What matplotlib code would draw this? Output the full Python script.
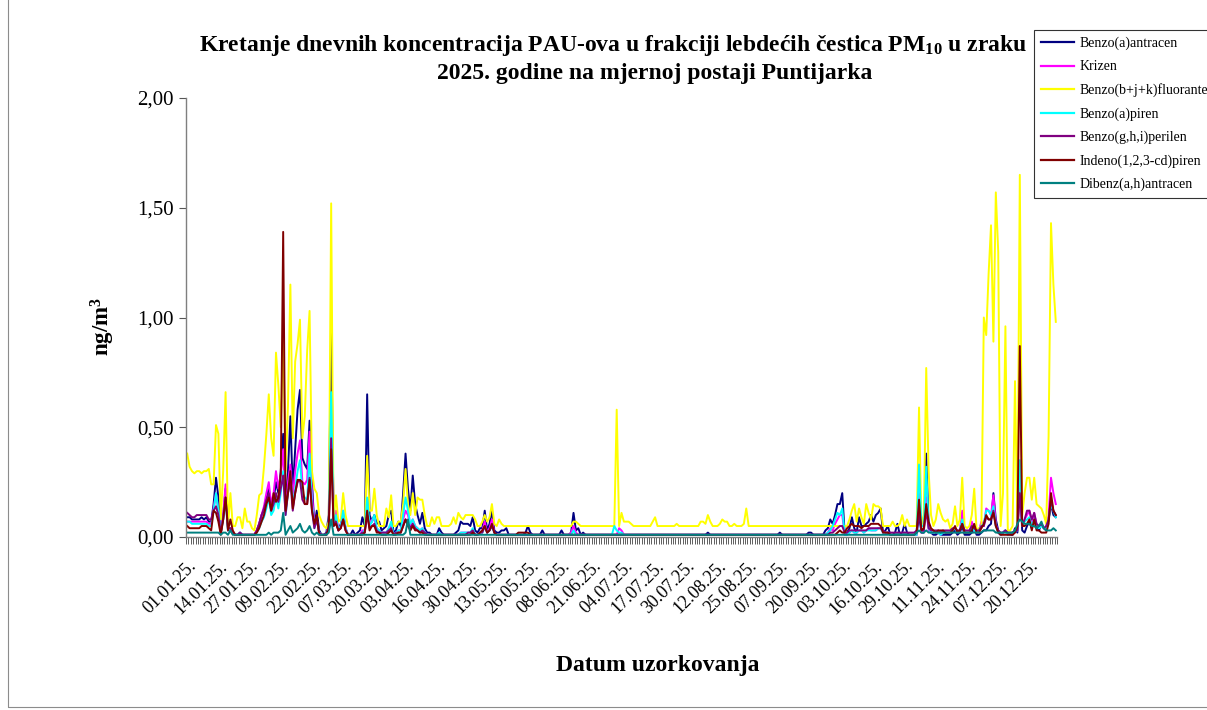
import numpy as np
import matplotlib
matplotlib.use("Agg")
import matplotlib.pyplot as plt
from matplotlib.patches import Rectangle
from matplotlib.ticker import FuncFormatter

# daily PAH concentrations in PM10 (ng/m3), one row per 13 samples
benzo_a_antracen = [
    0.09, 0.09, 0.08, 0.08, 0.08, 0.08, 0.09, 0.08, 0.09, 0.07, 0.07, 0.15, 0.27,
    0.18, 0.02, 0.10, 0.22, 0.03, 0.04, 0.02, 0.01, 0.01, 0.02, 0.01, 0.01, 0.01,
    0.01, 0.01, 0.01, 0.03, 0.06, 0.10, 0.12, 0.18, 0.22, 0.12, 0.17, 0.25, 0.20,
    0.30, 0.47, 0.15, 0.30, 0.55, 0.21, 0.40, 0.58, 0.67, 0.36, 0.33, 0.31, 0.53,
    0.25, 0.05, 0.12, 0.03, 0.01, 0.01, 0.02, 0.10, 0.94, 0.10, 0.08, 0.03, 0.06,
    0.10, 0.04, 0.01, 0.01, 0.03, 0.01, 0.02, 0.03, 0.09, 0.05, 0.65, 0.10, 0.07,
    0.10, 0.06, 0.07, 0.03, 0.04, 0.05, 0.10, 0.12, 0.02, 0.03, 0.07, 0.05, 0.20,
    0.38, 0.22, 0.12, 0.28, 0.15, 0.10, 0.06, 0.11, 0.04, 0.02, 0.02, 0.01, 0.01,
    0.01, 0.04, 0.02, 0.01, 0.01, 0.01, 0.01, 0.01, 0.02, 0.03, 0.07, 0.06, 0.06,
    0.06, 0.05, 0.09, 0.03, 0.02, 0.04, 0.04, 0.12, 0.03, 0.06, 0.12, 0.03, 0.02,
    0.02, 0.03, 0.03, 0.04, 0.01, 0.01, 0.01, 0.01, 0.01, 0.01, 0.01, 0.02, 0.05,
    0.02, 0.01, 0.01, 0.01, 0.01, 0.03, 0.01, 0.01, 0.01, 0.01, 0.01, 0.01, 0.01,
    0.03, 0.01, 0.01, 0.01, 0.02, 0.11, 0.03, 0.04, 0.01, 0.02, 0.01, 0.01, 0.01,
    0.01, 0.01, 0.01, 0.01, 0.01, 0.01, 0.01, 0.01, 0.01, 0.01, 0.01, 0.01, 0.01,
    0.01, 0.01, 0.01, 0.01, 0.01, 0.01, 0.01, 0.01, 0.01, 0.01, 0.01, 0.01, 0.01,
    0.01, 0.01, 0.01, 0.01, 0.01, 0.01, 0.01, 0.01, 0.01, 0.01, 0.01, 0.01, 0.01,
    0.01, 0.01, 0.01, 0.01, 0.01, 0.01, 0.01, 0.01, 0.01, 0.02, 0.01, 0.01, 0.01,
    0.01, 0.01, 0.01, 0.01, 0.01, 0.01, 0.01, 0.01, 0.01, 0.01, 0.01, 0.01, 0.01,
    0.01, 0.01, 0.01, 0.01, 0.01, 0.01, 0.01, 0.01, 0.01, 0.01, 0.01, 0.01, 0.01,
    0.02, 0.01, 0.01, 0.01, 0.01, 0.01, 0.01, 0.01, 0.01, 0.01, 0.01, 0.01, 0.02,
    0.02, 0.01, 0.01, 0.01, 0.01, 0.01, 0.03, 0.04, 0.08, 0.06, 0.10, 0.15, 0.15,
    0.20, 0.02, 0.02, 0.04, 0.09, 0.04, 0.02, 0.09, 0.05, 0.05, 0.06, 0.07, 0.10,
    0.07, 0.10, 0.11, 0.13, 0.02, 0.03, 0.05, 0.01, 0.01, 0.02, 0.06, 0.01, 0.02,
    0.06, 0.02, 0.01, 0.01, 0.01, 0.01, 0.10, 0.02, 0.02, 0.38, 0.05, 0.02, 0.01,
    0.01, 0.02, 0.01, 0.01, 0.01, 0.01, 0.01, 0.02, 0.03, 0.01, 0.02, 0.05, 0.01,
    0.01, 0.01, 0.02, 0.04, 0.01, 0.01, 0.02, 0.03, 0.03, 0.05, 0.06, 0.20, 0.08,
    0.03, 0.01, 0.02, 0.03, 0.01, 0.01, 0.01, 0.04, 0.02, 0.25, 0.03, 0.02, 0.05,
    0.07, 0.04, 0.08, 0.05, 0.03, 0.06, 0.04, 0.03, 0.08, 0.15, 0.10, 0.09,
]

krizen = [
    0.07, 0.07, 0.07, 0.07, 0.07, 0.07, 0.07, 0.07, 0.07, 0.06, 0.06, 0.13, 0.20,
    0.12, 0.02, 0.10, 0.24, 0.03, 0.04, 0.02, 0.01, 0.01, 0.02, 0.01, 0.01, 0.01,
    0.01, 0.01, 0.01, 0.03, 0.06, 0.10, 0.14, 0.20, 0.25, 0.15, 0.20, 0.30, 0.22,
    0.28, 0.40, 0.12, 0.25, 0.33, 0.18, 0.30, 0.38, 0.44, 0.25, 0.24, 0.26, 0.48,
    0.20, 0.05, 0.08, 0.02, 0.01, 0.01, 0.01, 0.06, 0.60, 0.08, 0.12, 0.03, 0.05,
    0.12, 0.04, 0.01, 0.01, 0.01, 0.01, 0.01, 0.01, 0.03, 0.03, 0.13, 0.05, 0.08,
    0.08, 0.04, 0.03, 0.02, 0.02, 0.02, 0.04, 0.05, 0.01, 0.02, 0.03, 0.03, 0.08,
    0.12, 0.10, 0.05, 0.08, 0.05, 0.04, 0.03, 0.04, 0.02, 0.01, 0.01, 0.01, 0.01,
    0.01, 0.02, 0.01, 0.01, 0.01, 0.01, 0.01, 0.01, 0.01, 0.01, 0.02, 0.02, 0.02,
    0.02, 0.02, 0.03, 0.01, 0.01, 0.02, 0.03, 0.07, 0.02, 0.04, 0.08, 0.02, 0.01,
    0.01, 0.01, 0.01, 0.01, 0.01, 0.01, 0.01, 0.01, 0.01, 0.01, 0.01, 0.01, 0.01,
    0.01, 0.01, 0.01, 0.01, 0.01, 0.01, 0.01, 0.01, 0.01, 0.01, 0.01, 0.01, 0.01,
    0.01, 0.01, 0.01, 0.01, 0.02, 0.05, 0.02, 0.01, 0.01, 0.01, 0.01, 0.01, 0.01,
    0.01, 0.01, 0.01, 0.01, 0.01, 0.01, 0.01, 0.01, 0.01, 0.01, 0.01, 0.04, 0.03,
    0.01, 0.01, 0.01, 0.01, 0.01, 0.01, 0.01, 0.01, 0.01, 0.01, 0.01, 0.01, 0.01,
    0.01, 0.01, 0.01, 0.01, 0.01, 0.01, 0.01, 0.01, 0.01, 0.01, 0.01, 0.01, 0.01,
    0.01, 0.01, 0.01, 0.01, 0.01, 0.01, 0.01, 0.01, 0.01, 0.01, 0.01, 0.01, 0.01,
    0.01, 0.01, 0.01, 0.01, 0.01, 0.01, 0.01, 0.01, 0.01, 0.01, 0.01, 0.01, 0.01,
    0.01, 0.01, 0.01, 0.01, 0.01, 0.01, 0.01, 0.01, 0.01, 0.01, 0.01, 0.01, 0.01,
    0.01, 0.01, 0.01, 0.01, 0.01, 0.01, 0.01, 0.01, 0.01, 0.01, 0.01, 0.01, 0.01,
    0.01, 0.01, 0.01, 0.01, 0.01, 0.01, 0.01, 0.02, 0.04, 0.03, 0.06, 0.08, 0.10,
    0.10, 0.01, 0.01, 0.02, 0.03, 0.02, 0.02, 0.03, 0.03, 0.02, 0.03, 0.04, 0.03,
    0.03, 0.03, 0.04, 0.04, 0.02, 0.02, 0.02, 0.01, 0.01, 0.01, 0.02, 0.01, 0.01,
    0.02, 0.01, 0.01, 0.01, 0.01, 0.01, 0.20, 0.02, 0.03, 0.18, 0.03, 0.02, 0.02,
    0.02, 0.02, 0.01, 0.02, 0.02, 0.02, 0.02, 0.03, 0.04, 0.02, 0.03, 0.12, 0.02,
    0.02, 0.02, 0.07, 0.03, 0.02, 0.03, 0.07, 0.05, 0.13, 0.12, 0.10, 0.19, 0.06,
    0.02, 0.01, 0.02, 0.03, 0.01, 0.01, 0.02, 0.03, 0.03, 0.30, 0.05, 0.08, 0.10,
    0.12, 0.06, 0.11, 0.05, 0.04, 0.06, 0.04, 0.04, 0.10, 0.27, 0.20, 0.15,
]

benzo_bjk_fluoranten = [
    0.38, 0.32, 0.30, 0.29, 0.30, 0.30, 0.29, 0.30, 0.30, 0.31, 0.24, 0.24, 0.51,
    0.47, 0.08, 0.30, 0.66, 0.05, 0.20, 0.05, 0.05, 0.09, 0.09, 0.04, 0.13, 0.07,
    0.07, 0.04, 0.03, 0.10, 0.19, 0.20, 0.32, 0.47, 0.65, 0.45, 0.37, 0.84, 0.69,
    0.50, 0.95, 0.30, 0.60, 1.15, 0.45, 0.80, 0.88, 0.99, 0.45, 0.55, 0.85, 1.03,
    0.30, 0.22, 0.20, 0.10, 0.07, 0.05, 0.04, 0.07, 1.52, 0.07, 0.19, 0.07, 0.08,
    0.20, 0.10, 0.05, 0.05, 0.05, 0.05, 0.05, 0.05, 0.05, 0.05, 0.37, 0.12, 0.12,
    0.22, 0.10, 0.05, 0.05, 0.05, 0.13, 0.09, 0.19, 0.05, 0.05, 0.07, 0.07, 0.15,
    0.31, 0.15, 0.10, 0.20, 0.10, 0.18, 0.17, 0.17, 0.10, 0.05, 0.05, 0.09, 0.06,
    0.09, 0.09, 0.05, 0.05, 0.05, 0.05, 0.06, 0.09, 0.06, 0.11, 0.09, 0.08, 0.10,
    0.10, 0.10, 0.10, 0.08, 0.05, 0.05, 0.07, 0.10, 0.07, 0.09, 0.15, 0.06, 0.05,
    0.08, 0.06, 0.05, 0.05, 0.05, 0.05, 0.05, 0.05, 0.05, 0.05, 0.05, 0.05, 0.05,
    0.05, 0.05, 0.05, 0.05, 0.05, 0.05, 0.05, 0.05, 0.05, 0.05, 0.05, 0.05, 0.05,
    0.05, 0.05, 0.05, 0.05, 0.05, 0.07, 0.07, 0.06, 0.05, 0.05, 0.05, 0.05, 0.05,
    0.05, 0.05, 0.05, 0.05, 0.05, 0.05, 0.05, 0.05, 0.05, 0.05, 0.58, 0.05, 0.11,
    0.07, 0.07, 0.07, 0.06, 0.05, 0.05, 0.05, 0.05, 0.05, 0.05, 0.05, 0.05, 0.07,
    0.09, 0.05, 0.05, 0.05, 0.05, 0.05, 0.05, 0.05, 0.05, 0.06, 0.05, 0.05, 0.05,
    0.05, 0.05, 0.05, 0.05, 0.05, 0.05, 0.07, 0.07, 0.06, 0.10, 0.07, 0.05, 0.05,
    0.05, 0.06, 0.08, 0.07, 0.07, 0.05, 0.05, 0.06, 0.05, 0.05, 0.05, 0.06, 0.13,
    0.05, 0.05, 0.05, 0.05, 0.05, 0.05, 0.05, 0.05, 0.05, 0.05, 0.05, 0.05, 0.05,
    0.05, 0.05, 0.05, 0.05, 0.05, 0.05, 0.05, 0.05, 0.05, 0.05, 0.05, 0.05, 0.05,
    0.05, 0.05, 0.05, 0.05, 0.05, 0.05, 0.05, 0.05, 0.05, 0.05, 0.05, 0.05, 0.05,
    0.05, 0.05, 0.05, 0.08, 0.12, 0.15, 0.07, 0.13, 0.09, 0.06, 0.15, 0.11, 0.08,
    0.15, 0.14, 0.14, 0.13, 0.05, 0.05, 0.05, 0.05, 0.07, 0.05, 0.05, 0.06, 0.10,
    0.05, 0.08, 0.05, 0.05, 0.05, 0.05, 0.59, 0.05, 0.10, 0.77, 0.30, 0.10, 0.05,
    0.08, 0.15, 0.11, 0.08, 0.07, 0.08, 0.04, 0.06, 0.14, 0.05, 0.08, 0.27, 0.05,
    0.04, 0.05, 0.10, 0.22, 0.03, 0.04, 0.05, 1.00, 0.92, 1.20, 1.42, 0.89, 1.57,
    1.30, 0.05, 0.20, 0.96, 0.03, 0.03, 0.05, 0.71, 0.05, 1.65, 0.10, 0.20, 0.27,
    0.27, 0.17, 0.27, 0.15, 0.14, 0.13, 0.10, 0.06, 0.46, 1.43, 1.15, 0.98,
]

benzo_a_piren = [
    0.07, 0.07, 0.06, 0.06, 0.06, 0.06, 0.06, 0.06, 0.06, 0.05, 0.05, 0.12, 0.20,
    0.12, 0.02, 0.08, 0.17, 0.03, 0.03, 0.02, 0.01, 0.01, 0.02, 0.01, 0.01, 0.01,
    0.01, 0.01, 0.01, 0.02, 0.04, 0.07, 0.09, 0.13, 0.18, 0.10, 0.12, 0.18, 0.13,
    0.20, 0.30, 0.10, 0.20, 0.28, 0.15, 0.22, 0.30, 0.35, 0.20, 0.18, 0.17, 0.38,
    0.15, 0.04, 0.08, 0.02, 0.01, 0.01, 0.01, 0.05, 0.66, 0.06, 0.10, 0.03, 0.05,
    0.12, 0.04, 0.01, 0.01, 0.01, 0.01, 0.01, 0.01, 0.02, 0.03, 0.18, 0.05, 0.07,
    0.10, 0.04, 0.03, 0.02, 0.02, 0.02, 0.04, 0.07, 0.01, 0.02, 0.03, 0.03, 0.10,
    0.18, 0.12, 0.06, 0.08, 0.05, 0.04, 0.03, 0.04, 0.02, 0.01, 0.01, 0.01, 0.01,
    0.01, 0.02, 0.01, 0.01, 0.01, 0.01, 0.01, 0.01, 0.01, 0.01, 0.02, 0.02, 0.02,
    0.02, 0.02, 0.04, 0.01, 0.01, 0.02, 0.02, 0.05, 0.02, 0.03, 0.05, 0.02, 0.01,
    0.01, 0.01, 0.01, 0.01, 0.01, 0.01, 0.01, 0.01, 0.01, 0.01, 0.01, 0.01, 0.01,
    0.01, 0.01, 0.01, 0.01, 0.01, 0.01, 0.01, 0.01, 0.01, 0.01, 0.01, 0.01, 0.01,
    0.01, 0.01, 0.01, 0.01, 0.01, 0.03, 0.01, 0.01, 0.01, 0.01, 0.01, 0.01, 0.01,
    0.01, 0.01, 0.01, 0.01, 0.01, 0.01, 0.01, 0.01, 0.01, 0.05, 0.03, 0.02, 0.02,
    0.01, 0.01, 0.01, 0.01, 0.01, 0.01, 0.01, 0.01, 0.01, 0.01, 0.01, 0.01, 0.01,
    0.01, 0.01, 0.01, 0.01, 0.01, 0.01, 0.01, 0.01, 0.01, 0.01, 0.01, 0.01, 0.01,
    0.01, 0.01, 0.01, 0.01, 0.01, 0.01, 0.01, 0.01, 0.01, 0.01, 0.01, 0.01, 0.01,
    0.01, 0.01, 0.01, 0.01, 0.01, 0.01, 0.01, 0.01, 0.01, 0.01, 0.01, 0.01, 0.01,
    0.01, 0.01, 0.01, 0.01, 0.01, 0.01, 0.01, 0.01, 0.01, 0.01, 0.01, 0.01, 0.01,
    0.01, 0.01, 0.01, 0.01, 0.01, 0.01, 0.01, 0.01, 0.01, 0.01, 0.01, 0.01, 0.01,
    0.01, 0.01, 0.01, 0.01, 0.01, 0.01, 0.01, 0.02, 0.03, 0.05, 0.08, 0.11, 0.10,
    0.13, 0.01, 0.01, 0.02, 0.03, 0.02, 0.02, 0.03, 0.03, 0.02, 0.03, 0.03, 0.03,
    0.03, 0.03, 0.04, 0.04, 0.02, 0.02, 0.02, 0.01, 0.01, 0.01, 0.02, 0.01, 0.01,
    0.02, 0.01, 0.01, 0.01, 0.01, 0.01, 0.33, 0.05, 0.05, 0.32, 0.04, 0.02, 0.02,
    0.02, 0.02, 0.01, 0.02, 0.02, 0.02, 0.02, 0.03, 0.04, 0.02, 0.03, 0.08, 0.02,
    0.02, 0.02, 0.05, 0.03, 0.02, 0.03, 0.05, 0.06, 0.12, 0.12, 0.10, 0.14, 0.05,
    0.02, 0.01, 0.02, 0.03, 0.01, 0.01, 0.02, 0.03, 0.03, 0.35, 0.05, 0.07, 0.08,
    0.09, 0.05, 0.08, 0.05, 0.04, 0.05, 0.04, 0.04, 0.08, 0.15, 0.12, 0.09,
]

benzo_ghi_perilen = [
    0.11, 0.10, 0.09, 0.09, 0.10, 0.10, 0.10, 0.10, 0.10, 0.08, 0.08, 0.12, 0.14,
    0.10, 0.02, 0.08, 0.18, 0.04, 0.04, 0.02, 0.01, 0.01, 0.02, 0.01, 0.01, 0.01,
    0.01, 0.01, 0.01, 0.03, 0.06, 0.10, 0.13, 0.17, 0.20, 0.12, 0.15, 0.20, 0.16,
    0.22, 0.28, 0.10, 0.20, 0.25, 0.12, 0.20, 0.25, 0.26, 0.17, 0.15, 0.15, 0.27,
    0.12, 0.04, 0.08, 0.02, 0.01, 0.01, 0.01, 0.05, 0.45, 0.05, 0.07, 0.03, 0.04,
    0.08, 0.03, 0.01, 0.01, 0.01, 0.01, 0.01, 0.01, 0.02, 0.02, 0.10, 0.04, 0.05,
    0.06, 0.03, 0.02, 0.02, 0.02, 0.02, 0.03, 0.04, 0.01, 0.02, 0.02, 0.02, 0.05,
    0.08, 0.06, 0.04, 0.06, 0.04, 0.03, 0.02, 0.03, 0.02, 0.01, 0.01, 0.01, 0.01,
    0.01, 0.01, 0.01, 0.01, 0.01, 0.01, 0.01, 0.01, 0.01, 0.01, 0.01, 0.01, 0.01,
    0.02, 0.02, 0.03, 0.01, 0.01, 0.02, 0.02, 0.05, 0.02, 0.03, 0.05, 0.02, 0.01,
    0.01, 0.01, 0.01, 0.01, 0.01, 0.01, 0.01, 0.01, 0.01, 0.01, 0.01, 0.01, 0.01,
    0.01, 0.01, 0.01, 0.01, 0.01, 0.01, 0.01, 0.01, 0.01, 0.01, 0.01, 0.01, 0.01,
    0.01, 0.01, 0.01, 0.01, 0.01, 0.01, 0.01, 0.01, 0.01, 0.01, 0.01, 0.01, 0.01,
    0.01, 0.01, 0.01, 0.01, 0.01, 0.01, 0.01, 0.01, 0.01, 0.01, 0.01, 0.01, 0.01,
    0.01, 0.01, 0.01, 0.01, 0.01, 0.01, 0.01, 0.01, 0.01, 0.01, 0.01, 0.01, 0.01,
    0.01, 0.01, 0.01, 0.01, 0.01, 0.01, 0.01, 0.01, 0.01, 0.01, 0.01, 0.01, 0.01,
    0.01, 0.01, 0.01, 0.01, 0.01, 0.01, 0.01, 0.01, 0.01, 0.01, 0.01, 0.01, 0.01,
    0.01, 0.01, 0.01, 0.01, 0.01, 0.01, 0.01, 0.01, 0.01, 0.01, 0.01, 0.01, 0.01,
    0.01, 0.01, 0.01, 0.01, 0.01, 0.01, 0.01, 0.01, 0.01, 0.01, 0.01, 0.01, 0.01,
    0.01, 0.01, 0.01, 0.01, 0.01, 0.01, 0.01, 0.01, 0.01, 0.01, 0.01, 0.01, 0.01,
    0.01, 0.01, 0.01, 0.01, 0.01, 0.01, 0.01, 0.01, 0.02, 0.02, 0.03, 0.04, 0.05,
    0.05, 0.02, 0.02, 0.03, 0.03, 0.03, 0.03, 0.03, 0.03, 0.03, 0.03, 0.04, 0.04,
    0.04, 0.04, 0.04, 0.04, 0.03, 0.02, 0.02, 0.02, 0.02, 0.02, 0.02, 0.02, 0.02,
    0.02, 0.02, 0.02, 0.02, 0.02, 0.03, 0.12, 0.03, 0.03, 0.12, 0.04, 0.03, 0.03,
    0.03, 0.03, 0.02, 0.03, 0.03, 0.03, 0.03, 0.04, 0.04, 0.03, 0.03, 0.06, 0.03,
    0.03, 0.03, 0.05, 0.04, 0.03, 0.03, 0.05, 0.05, 0.09, 0.08, 0.08, 0.12, 0.05,
    0.03, 0.02, 0.02, 0.03, 0.02, 0.02, 0.02, 0.03, 0.03, 0.20, 0.05, 0.08, 0.12,
    0.12, 0.08, 0.11, 0.06, 0.05, 0.06, 0.04, 0.05, 0.08, 0.17, 0.12, 0.10,
]

indeno_piren = [
    0.05, 0.04, 0.04, 0.04, 0.04, 0.04, 0.05, 0.05, 0.05, 0.04, 0.03, 0.12, 0.11,
    0.07, 0.01, 0.08, 0.18, 0.03, 0.08, 0.03, 0.01, 0.01, 0.01, 0.01, 0.01, 0.01,
    0.01, 0.01, 0.01, 0.02, 0.04, 0.07, 0.10, 0.15, 0.18, 0.12, 0.20, 0.16, 0.18,
    0.29, 1.39, 0.12, 0.20, 0.30, 0.13, 0.20, 0.26, 0.26, 0.25, 0.15, 0.15, 0.26,
    0.12, 0.06, 0.10, 0.01, 0.01, 0.01, 0.01, 0.04, 0.40, 0.05, 0.06, 0.03, 0.04,
    0.08, 0.03, 0.01, 0.01, 0.01, 0.01, 0.01, 0.01, 0.01, 0.02, 0.12, 0.03, 0.05,
    0.05, 0.02, 0.02, 0.01, 0.01, 0.01, 0.02, 0.03, 0.01, 0.01, 0.02, 0.02, 0.05,
    0.08, 0.05, 0.03, 0.05, 0.03, 0.03, 0.02, 0.02, 0.01, 0.01, 0.01, 0.01, 0.01,
    0.01, 0.01, 0.01, 0.01, 0.01, 0.01, 0.01, 0.01, 0.01, 0.01, 0.01, 0.01, 0.01,
    0.01, 0.01, 0.02, 0.01, 0.01, 0.02, 0.03, 0.05, 0.02, 0.03, 0.06, 0.02, 0.01,
    0.01, 0.01, 0.01, 0.01, 0.01, 0.01, 0.01, 0.01, 0.02, 0.02, 0.02, 0.02, 0.02,
    0.01, 0.01, 0.01, 0.01, 0.01, 0.01, 0.01, 0.01, 0.01, 0.01, 0.01, 0.01, 0.01,
    0.01, 0.01, 0.01, 0.01, 0.01, 0.01, 0.01, 0.01, 0.01, 0.01, 0.01, 0.01, 0.01,
    0.01, 0.01, 0.01, 0.01, 0.01, 0.01, 0.01, 0.01, 0.01, 0.01, 0.01, 0.01, 0.01,
    0.01, 0.01, 0.01, 0.01, 0.01, 0.01, 0.01, 0.01, 0.01, 0.01, 0.01, 0.01, 0.01,
    0.01, 0.01, 0.01, 0.01, 0.01, 0.01, 0.01, 0.01, 0.01, 0.01, 0.01, 0.01, 0.01,
    0.01, 0.01, 0.01, 0.01, 0.01, 0.01, 0.01, 0.01, 0.01, 0.01, 0.01, 0.01, 0.01,
    0.01, 0.01, 0.01, 0.01, 0.01, 0.01, 0.01, 0.01, 0.01, 0.01, 0.01, 0.01, 0.01,
    0.01, 0.01, 0.01, 0.01, 0.01, 0.01, 0.01, 0.01, 0.01, 0.01, 0.01, 0.01, 0.01,
    0.01, 0.01, 0.01, 0.01, 0.01, 0.01, 0.01, 0.01, 0.01, 0.01, 0.01, 0.01, 0.01,
    0.01, 0.01, 0.01, 0.01, 0.01, 0.01, 0.01, 0.01, 0.01, 0.01, 0.01, 0.02, 0.03,
    0.02, 0.02, 0.04, 0.05, 0.06, 0.05, 0.05, 0.05, 0.04, 0.05, 0.05, 0.05, 0.06,
    0.06, 0.06, 0.06, 0.05, 0.02, 0.02, 0.02, 0.01, 0.01, 0.01, 0.01, 0.01, 0.01,
    0.01, 0.01, 0.01, 0.01, 0.01, 0.02, 0.17, 0.03, 0.04, 0.15, 0.07, 0.04, 0.03,
    0.02, 0.03, 0.03, 0.03, 0.02, 0.02, 0.02, 0.03, 0.05, 0.02, 0.03, 0.06, 0.02,
    0.02, 0.02, 0.03, 0.06, 0.02, 0.02, 0.04, 0.06, 0.10, 0.08, 0.08, 0.11, 0.05,
    0.02, 0.01, 0.01, 0.01, 0.01, 0.01, 0.01, 0.02, 0.05, 0.87, 0.05, 0.05, 0.06,
    0.08, 0.03, 0.08, 0.03, 0.03, 0.02, 0.02, 0.02, 0.06, 0.20, 0.12, 0.10,
]

dibenz_ah_antracen = [
    0.02, 0.02, 0.02, 0.02, 0.02, 0.02, 0.02, 0.02, 0.02, 0.02, 0.02, 0.02, 0.02,
    0.02, 0.01, 0.02, 0.02, 0.01, 0.03, 0.01, 0.01, 0.01, 0.01, 0.01, 0.01, 0.01,
    0.01, 0.01, 0.01, 0.01, 0.01, 0.01, 0.01, 0.01, 0.02, 0.01, 0.02, 0.02, 0.02,
    0.03, 0.11, 0.01, 0.03, 0.05, 0.02, 0.03, 0.04, 0.06, 0.03, 0.02, 0.03, 0.05,
    0.02, 0.01, 0.02, 0.01, 0.01, 0.01, 0.01, 0.02, 0.08, 0.01, 0.01, 0.01, 0.01,
    0.01, 0.01, 0.01, 0.01, 0.01, 0.01, 0.01, 0.01, 0.01, 0.01, 0.01, 0.01, 0.01,
    0.01, 0.01, 0.01, 0.01, 0.01, 0.01, 0.01, 0.01, 0.01, 0.01, 0.01, 0.01, 0.01,
    0.02, 0.08, 0.01, 0.01, 0.01, 0.01, 0.01, 0.01, 0.01, 0.01, 0.01, 0.01, 0.01,
    0.01, 0.01, 0.01, 0.01, 0.01, 0.01, 0.01, 0.01, 0.01, 0.01, 0.01, 0.01, 0.01,
    0.01, 0.01, 0.01, 0.01, 0.01, 0.01, 0.01, 0.01, 0.01, 0.01, 0.01, 0.01, 0.01,
    0.01, 0.01, 0.01, 0.01, 0.01, 0.01, 0.01, 0.01, 0.01, 0.01, 0.01, 0.01, 0.01,
    0.01, 0.01, 0.01, 0.01, 0.01, 0.01, 0.01, 0.01, 0.01, 0.01, 0.01, 0.01, 0.01,
    0.01, 0.01, 0.01, 0.01, 0.01, 0.01, 0.01, 0.01, 0.01, 0.01, 0.01, 0.01, 0.01,
    0.01, 0.01, 0.01, 0.01, 0.01, 0.01, 0.01, 0.01, 0.01, 0.01, 0.01, 0.01, 0.01,
    0.01, 0.01, 0.01, 0.01, 0.01, 0.01, 0.01, 0.01, 0.01, 0.01, 0.01, 0.01, 0.01,
    0.01, 0.01, 0.01, 0.01, 0.01, 0.01, 0.01, 0.01, 0.01, 0.01, 0.01, 0.01, 0.01,
    0.01, 0.01, 0.01, 0.01, 0.01, 0.01, 0.01, 0.01, 0.01, 0.01, 0.01, 0.01, 0.01,
    0.01, 0.01, 0.01, 0.01, 0.01, 0.01, 0.01, 0.01, 0.01, 0.01, 0.01, 0.01, 0.01,
    0.01, 0.01, 0.01, 0.01, 0.01, 0.01, 0.01, 0.01, 0.01, 0.01, 0.01, 0.01, 0.01,
    0.01, 0.01, 0.01, 0.01, 0.01, 0.01, 0.01, 0.01, 0.01, 0.01, 0.01, 0.01, 0.01,
    0.01, 0.01, 0.01, 0.01, 0.01, 0.01, 0.01, 0.01, 0.01, 0.01, 0.01, 0.01, 0.01,
    0.01, 0.01, 0.01, 0.01, 0.01, 0.01, 0.01, 0.01, 0.01, 0.01, 0.01, 0.01, 0.01,
    0.01, 0.01, 0.01, 0.01, 0.01, 0.01, 0.01, 0.01, 0.01, 0.01, 0.01, 0.01, 0.01,
    0.01, 0.01, 0.01, 0.01, 0.01, 0.02, 0.03, 0.02, 0.02, 0.03, 0.02, 0.02, 0.02,
    0.02, 0.02, 0.02, 0.02, 0.02, 0.02, 0.02, 0.02, 0.02, 0.02, 0.02, 0.02, 0.02,
    0.02, 0.02, 0.02, 0.02, 0.02, 0.02, 0.02, 0.03, 0.03, 0.03, 0.03, 0.03, 0.02,
    0.02, 0.02, 0.02, 0.02, 0.02, 0.02, 0.02, 0.03, 0.06, 0.08, 0.07, 0.06, 0.06,
    0.06, 0.05, 0.05, 0.04, 0.05, 0.07, 0.04, 0.03, 0.03, 0.03, 0.04, 0.03,
]

# every 13th sampling date is labelled on the category axis
date_labels = [
    "01.01.25.", "14.01.25.", "27.01.25.", "09.02.25.", "22.02.25.", "07.03.25.",
    "20.03.25.", "03.04.25.", "16.04.25.", "30.04.25.", "13.05.25.", "26.05.25.",
    "08.06.25.", "21.06.25.", "04.07.25.", "17.07.25.", "30.07.25.", "12.08.25.",
    "25.08.25.", "07.09.25.", "20.09.25.", "03.10.25.", "16.10.25.", "29.10.25.",
    "11.11.25.", "24.11.25.", "07.12.25.", "20.12.25.",
]
label_step = 13

series = [
    ("Benzo(a)antracen", benzo_a_antracen, "#000080"),
    ("Krizen", krizen, "#FF00FF"),
    ("Benzo(b+j+k)fluoranten", benzo_bjk_fluoranten, "#FFFF00"),
    ("Benzo(a)piren", benzo_a_piren, "#00FFFF"),
    ("Benzo(g,h,i)perilen", benzo_ghi_perilen, "#800080"),
    ("Indeno(1,2,3-cd)piren", indeno_piren, "#800000"),
    ("Dibenz(a,h)antracen", dibenz_ah_antracen, "#008080"),
]

n_days = len(benzo_a_antracen)
for name, values, color in series:
    assert len(values) == n_days, name

plt.rcParams["font.family"] = ["Liberation Serif", "DejaVu Serif"]
plt.rcParams["mathtext.default"] = "regular"

W, H = 1207, 710
fig = plt.figure(figsize=(W / 100, H / 100), dpi=100)
fig.patch.set_facecolor("white")

# outer chart frame, only left and bottom edges fall inside the canvas
fig.patches.append(Rectangle((8 / W, 3 / H), 2, 2, transform=fig.transFigure,
                             fill=False, edgecolor="#8c8c8c", linewidth=0.8))

ax = fig.add_axes([186 / W, 1 - 537 / H, 871 / W, 439 / H])
x = np.arange(n_days)
for name, values, color in series:
    ax.plot(x, values, color=color, linewidth=1.4, label=name)

ax.set_xlim(-0.5, n_days - 0.5)
ax.set_ylim(0, 2)
ax.set_yticks(np.arange(0, 2.01, 0.5))
ax.yaxis.set_major_formatter(FuncFormatter(lambda v, p: f"{v:.2f}".replace(".", ",")))
ax.tick_params(axis="y", direction="out", length=5, width=0.8, color="#555555",
               labelsize=15, pad=4)

ax.set_xticks(np.arange(0, n_days, label_step)[:len(date_labels)])
ax.set_xticklabels(date_labels, rotation=45, ha="right", va="top",
                   rotation_mode="anchor")
ax.set_xticks(np.arange(n_days + 1) - 0.5, minor=True)
ax.tick_params(axis="x", which="major", length=0, labelsize=13, pad=15)
ax.tick_params(axis="x", which="minor", direction="out", length=5, width=0.6,
               color="#444444")

for side in ("top", "right"):
    ax.spines[side].set_visible(False)
for side in ("left", "bottom"):
    ax.spines[side].set_color("#7f7f7f")
    ax.spines[side].set_linewidth(1.0)

fig.text(613 / W, 1 - 45 / H,
         "Kretanje dnevnih koncentracija PAU-ova u frakciji lebdećih čestica PM$_{10}$ u zraku",
         ha="center", va="center", fontsize=17, fontweight="bold")
fig.text(655 / W, 1 - 73 / H, "2025. godine na mjernoj postaji Puntijarka",
         ha="center", va="center", fontsize=17, fontweight="bold")
fig.text(103 / W, 1 - 326 / H, "ng/m$^{3}$", rotation=90, ha="center", va="center",
         fontsize=16.5, fontweight="bold")
fig.text(658 / W, 1 - 666 / H, "Datum uzorkovanja", ha="center", va="center",
         fontsize=17, fontweight="bold")

leg = ax.legend(loc="upper left", bbox_to_anchor=(1034 / W, 1 - 30 / H),
                bbox_transform=fig.transFigure, fontsize=10, frameon=True,
                fancybox=False, edgecolor="black", handlelength=2.4,
                handletextpad=0.35, labelspacing=0.72, borderpad=0.5,
                borderaxespad=0)
leg.get_frame().set_linewidth(0.8)
for line in leg.get_lines():
    line.set_linewidth(1.6)

fig.savefig("out.png", dpi=100, facecolor="white")
